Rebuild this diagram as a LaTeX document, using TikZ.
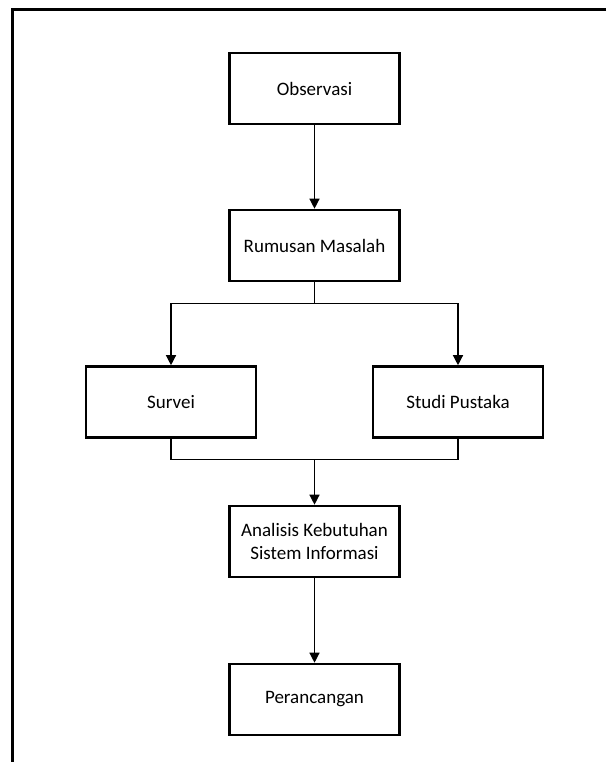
\documentclass[tikz,border=0pt]{standalone}
\usepackage{fontspec}
\setmainfont{Carlito}
\usetikzlibrary{arrows.meta}
\begin{document}
\begin{tikzpicture}[x=1pt,y=-1pt,
  box/.style={draw,line width=2.6pt,minimum width=170pt,minimum height=71pt,align=center,font=\fontsize{19}{23}\selectfont,inner sep=0pt},
  conn/.style={line width=1.3pt},
  arr/.style={conn,-{Triangle[length=10pt,width=10pt]}},
  frame/.style={line width=3pt}]
\useasboundingbox (0,0) rectangle (606,762);
\fill[white] (0,0) rectangle (606,762);
\coordinate (tr) at (606,9.5);
\coordinate (tl) at (12,9.5);
\coordinate (bl) at (12,762);
\draw[frame] (tr) -- (tl) -- (bl);

\node[box] (obs) at (314.5,88.5) {Observasi};
\node[box] (rum) at (314.5,245.5) {Rumusan Masalah};
\node[box] (sur) at (171,402) {Survei};
\node[box] (stu) at (458,402) {Studi Pustaka};
\node[box] (ana) at (314.5,541.5) {Analisis Kebutuhan\\Sistem Informasi};
\node[box] (per) at (314.5,699.5) {Perancangan};

\draw[arr] (obs.south) -- (rum.north);
\draw[conn] (rum.south) -- ++(0,21) coordinate (split);
\draw[arr] (split) -| (sur.north);
\draw[arr] (split) -| (stu.north);
\draw[conn] (sur.south) -- ++(0,21) coordinate (merge) -| (stu.south);
\draw[arr] (merge -| ana.north) -- (ana.north);
\draw[arr] (ana.south) -- (per.north);
\end{tikzpicture}
\end{document}
